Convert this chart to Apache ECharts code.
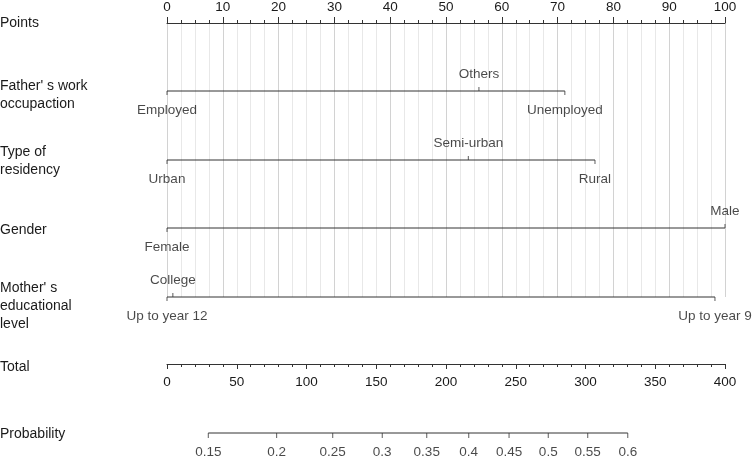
<!DOCTYPE html>
<html>
<head>
<meta charset="utf-8">
<script src="https://cdn.jsdelivr.net/npm/echarts@6/dist/echarts.min.js"></script>
<style>html,body{margin:0;padding:0;background:#fff}#c{width:752px;height:457px}</style>
</head>
<body>
<div id="c"></div>
<script>
// ---- data ----
const pointsTicks = [0, 10, 20, 30, 40, 50, 60, 70, 80, 90, 100];
const totalTicks = [0, 50, 100, 150, 200, 250, 300, 350, 400];

const fatherLevels = ['Employed', 'Others', 'Unemployed'];
const fatherPoints = [0, 55.9, 71.3];
const residencyLevels = ['Urban', 'Semi-urban', 'Rural'];
const residencyPoints = [0, 54.0, 76.7];
const genderLevels = ['Female', 'Male'];
const genderPoints = [0, 100];
const motherLevels = ['Up to year 12', 'College', 'Up to year 9'];
const motherPoints = [0, 1.05, 98.2];

const probLabels = ['0.15', '0.2', '0.25', '0.3', '0.35', '0.4', '0.45', '0.5', '0.55', '0.6'];
const probTotalPoints = [29.6, 78.6, 118.8, 154.3, 186.2, 216.3, 245.2, 273.3, 301.6, 330.3];

// ---- layout ----
const FONT = '"Liberation Sans", Arial, sans-serif';
const FS = 13.5;
const TXT = '#1a1a1a';
const LINE = '#333';
const rows = [
  { levels: fatherLevels, pts: fatherPoints, y: 68, above: ['Others'] },
  { levels: residencyLevels, pts: residencyPoints, y: 137, above: ['Semi-urban'] },
  { levels: genderLevels, pts: genderPoints, y: 205, above: ['Male'] },
  { levels: motherLevels, pts: motherPoints, y: 274, above: ['College'] }
];

const series = [];
rows.forEach(r => {
  const mn = Math.min(...r.pts), mx = Math.max(...r.pts);
  series.push({
    type: 'line', xAxisIndex: 0, yAxisIndex: 0, data: [[mn, r.y], [mx, r.y]],
    symbol: 'none', lineStyle: { color: LINE, width: 1 }, silent: true, animation: false, clip: false
  });
  series.push({
    type: 'scatter', xAxisIndex: 0, yAxisIndex: 0, symbol: 'rect', animation: false, clip: false,
    data: r.levels.map((l, i) => {
      const up = r.above.includes(l);
      return { value: [r.pts[i], r.y], symbolSize: [1, 4], symbolOffset: [0, up ? -2 : 2] };
    }),
    itemStyle: { color: LINE }, silent: true
  });
  series.push({
    type: 'scatter', xAxisIndex: 0, yAxisIndex: 0, symbolSize: 1, animation: false, clip: false,
    itemStyle: { color: 'rgba(0,0,0,0)' }, silent: true,
    data: r.levels.map((l, i) => {
      const up = r.above.includes(l);
      return {
        value: [r.pts[i], r.y], name: l,
        label: { show: true, position: 'inside', offset: [0, up ? -17 : 19], formatter: l,
          color: TXT, fontSize: FS, fontFamily: FONT }
      };
    })
  });
});

// probability axis
const pMin = Math.min(...probTotalPoints), pMax = Math.max(...probTotalPoints);
series.push({
  type: 'line', xAxisIndex: 2, yAxisIndex: 2, data: [[pMin, 0], [pMax, 0]],
  symbol: 'none', lineStyle: { color: LINE, width: 1 }, silent: true, animation: false, clip: false
});
series.push({
  type: 'scatter', xAxisIndex: 2, yAxisIndex: 2, symbol: 'rect', animation: false, clip: false,
  data: probTotalPoints.map(v => ({ value: [v, 0], symbolSize: [1, 5], symbolOffset: [0, 2.5] })),
  itemStyle: { color: LINE }, silent: true
});
series.push({
  type: 'scatter', xAxisIndex: 2, yAxisIndex: 2, symbolSize: 1, animation: false, clip: false,
  itemStyle: { color: 'rgba(0,0,0,0)' }, silent: true,
  data: probTotalPoints.map((v, i) => ({
    value: [v, 0],
    label: { show: true, position: 'inside', offset: [0, 19], formatter: probLabels[i],
      color: TXT, fontSize: FS, fontFamily: FONT }
  }))
});

const leftLabels = [
  { text: 'Points', y: 23 },
  { text: "Father' s work\noccupaction", y: 86 },
  { text: 'Type of\nresidency', y: 152 },
  { text: 'Gender', y: 230 },
  { text: "Mother' s\neducational\nlevel", y: 288 },
  { text: 'Total', y: 367 },
  { text: 'Probability', y: 434 }
];

const chart = echarts.init(document.getElementById('c'), null, { renderer: 'canvas' });
chart.setOption({
  animation: false,
  backgroundColor: '#fff',
  grid: [
    { left: 167, width: 558, top: 23, height: 274 },
    { left: 167, width: 558, top: 363, height: 1 },
    { left: 167, width: 558, top: 432, height: 1 }
  ],
  xAxis: [
    {
      gridIndex: 0, type: 'value', position: 'top', min: pointsTicks[0], max: pointsTicks[pointsTicks.length - 1],
      interval: pointsTicks[1] - pointsTicks[0],
      axisLine: { show: true, lineStyle: { color: LINE, width: 1 } },
      axisTick: { show: true, length: 6, lineStyle: { color: LINE } },
      minorTick: { show: true, splitNumber: 4, length: 3, lineStyle: { color: LINE } },
      axisLabel: { color: TXT, fontSize: FS, fontFamily: FONT, margin: 9 },
      splitLine: { show: true, lineStyle: { color: '#d2d2d2', width: 1 } },
      minorSplitLine: { show: true, lineStyle: { color: '#e8e8e8', width: 1 } }
    },
    {
      gridIndex: 1, type: 'value', position: 'bottom', min: totalTicks[0], max: totalTicks[totalTicks.length - 1],
      interval: totalTicks[1] - totalTicks[0],
      axisLine: { show: true, onZero: false, lineStyle: { color: LINE, width: 1 } },
      axisTick: { show: true, length: 5, lineStyle: { color: LINE } },
      minorTick: { show: true, splitNumber: 5, length: 3, lineStyle: { color: LINE } },
      axisLabel: { color: TXT, fontSize: FS, fontFamily: FONT, margin: 11 },
      splitLine: { show: false }
    },
    {
      gridIndex: 2, type: 'value', min: totalTicks[0], max: totalTicks[totalTicks.length - 1], show: false
    }
  ],
  yAxis: [
    { gridIndex: 0, type: 'value', min: 0, max: 274, inverse: true, show: false },
    { gridIndex: 1, type: 'value', min: 0, max: 1, show: false },
    { gridIndex: 2, type: 'value', min: 0, max: 1, show: false }
  ],
  graphic: leftLabels.map(l => ({
    type: 'text', left: 0, top: l.y - 9, silent: true,
    style: { text: l.text, fill: TXT, font: '14px ' + FONT, lineHeight: 18 }
  })),
  series: series
});
</script>
</body>
</html>
